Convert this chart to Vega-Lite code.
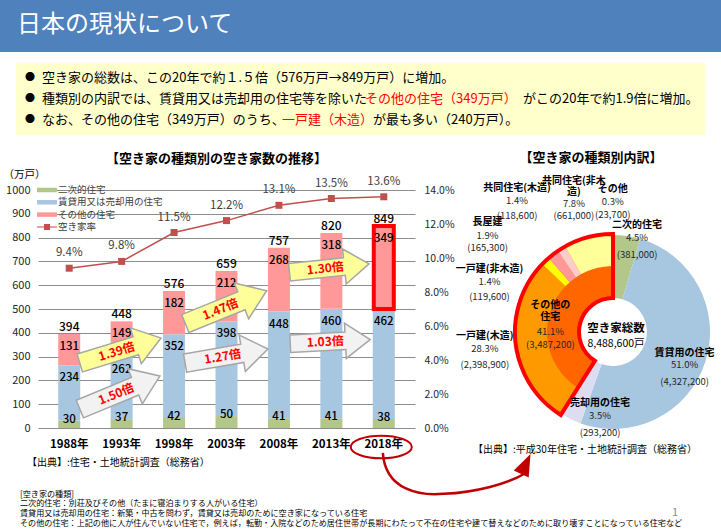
{
  "$schema": "https://vega.github.io/schema/vega-lite/v6.json",
  "background": "white",
  "padding": 0,
  "autosize": {"type": "pad"},
  "spacing": 0,
  "bounds": "full",
  "config": {"font": "Noto Sans CJK JP", "view": {"stroke": null}, "concat": {"spacing": 0}},
  "datasets": {
    "bars": [
      {"year": 1988, "type": "二次的住宅", "value": 30}, {"year": 1988, "type": "賃貸用又は売却用の住宅", "value": 234}, {"year": 1988, "type": "その他の住宅", "value": 131},
      {"year": 1993, "type": "二次的住宅", "value": 37}, {"year": 1993, "type": "賃貸用又は売却用の住宅", "value": 262}, {"year": 1993, "type": "その他の住宅", "value": 149},
      {"year": 1998, "type": "二次的住宅", "value": 42}, {"year": 1998, "type": "賃貸用又は売却用の住宅", "value": 352}, {"year": 1998, "type": "その他の住宅", "value": 182},
      {"year": 2003, "type": "二次的住宅", "value": 50}, {"year": 2003, "type": "賃貸用又は売却用の住宅", "value": 398}, {"year": 2003, "type": "その他の住宅", "value": 212},
      {"year": 2008, "type": "二次的住宅", "value": 41}, {"year": 2008, "type": "賃貸用又は売却用の住宅", "value": 448}, {"year": 2008, "type": "その他の住宅", "value": 268},
      {"year": 2013, "type": "二次的住宅", "value": 41}, {"year": 2013, "type": "賃貸用又は売却用の住宅", "value": 460}, {"year": 2013, "type": "その他の住宅", "value": 318},
      {"year": 2018, "type": "二次的住宅", "value": 38}, {"year": 2018, "type": "賃貸用又は売却用の住宅", "value": 462}, {"year": 2018, "type": "その他の住宅", "value": 349}
    ],
    "totals": [
      {"year": 1988, "total": 394}, {"year": 1993, "total": 448}, {"year": 1998, "total": 576}, {"year": 2003, "total": 659},
      {"year": 2008, "total": 757}, {"year": 2013, "total": 820}, {"year": 2018, "total": 849}
    ],
    "rate": [
      {"year": 1988, "rate": 9.4}, {"year": 1993, "rate": 9.8}, {"year": 1998, "rate": 11.5}, {"year": 2003, "rate": 12.2},
      {"year": 2008, "rate": 13.1}, {"year": 2013, "rate": 13.5}, {"year": 2018, "rate": 13.6}
    ],
    "donut": [
      {"ring": "main", "cat": "二次的住宅", "pct": 4.5, "n": 381000},
      {"ring": "main", "cat": "賃貸用の住宅", "pct": 51.0, "n": 4327200},
      {"ring": "main", "cat": "売却用の住宅", "pct": 3.5, "n": 293200},
      {"ring": "main", "cat": "その他の住宅", "pct": 41.1, "n": 3487200},
      {"ring": "sub", "cat": "二次的・賃貸用・売却用", "pct": 59.0, "n": 5001400},
      {"ring": "sub", "cat": "一戸建(木造)", "pct": 28.3, "n": 2398900},
      {"ring": "sub", "cat": "一戸建(非木造)", "pct": 1.4, "n": 119600},
      {"ring": "sub", "cat": "長屋建", "pct": 1.9, "n": 165300},
      {"ring": "sub", "cat": "共同住宅(木造)", "pct": 1.4, "n": 118600},
      {"ring": "sub", "cat": "共同住宅(非木造)", "pct": 7.8, "n": 661000},
      {"ring": "sub", "cat": "その他", "pct": 0.3, "n": 23700}
    ]
  },
  "resolve": {"scale": {"color": "independent"}, "legend": {"color": "independent"}},
  "vconcat": [
    {
      "width": 721, "height": 52, "view": {"fill": "#4F81BD"},
      "data": {"values": [{"t": "日本の現状について"}]},
      "mark": {"type": "text", "align": "left", "baseline": "middle", "fontSize": 24, "color": "#FFFFFF", "x": 17, "y": 25},
      "encoding": {"text": {"field": "t"}}
    },
    {"width": 721, "height": 8, "data": {"values": [{}]}, "mark": {"type": "text", "text": ""}},
    {
      "hconcat": [
        {"width": 16, "height": 72, "data": {"values": [{}]}, "mark": {"type": "text", "text": ""}},
        {
          "width": 689, "height": 72, "view": {"fill": "#FFFFCC"},
          "data": {"values": [{}]},
          "layer": [
            {"mark": {"type": "text", "text": ["●", "●", "●"], "align": "center", "baseline": "top", "fontSize": 10, "lineHeight": 21, "x": 14, "y": 10, "color": "#000000"}},
            {"mark": {"type": "text", "text": ["空き家の総数は、この20年で約１.５倍（576万戸→849万戸）に増加。", "種類別の内訳では、賃貸用又は売却用の住宅等を除いた", "なお、その他の住宅（349万戸）のうち、"], "align": "left", "baseline": "top", "fontSize": 13, "lineHeight": 21, "x": 26, "y": 8.5, "color": "#000000"}},
            {"mark": {"type": "text", "text": "その他の住宅（349万戸）", "align": "left", "baseline": "top", "fontSize": 13, "x": 349, "y": 29.5, "color": "#FF0000"}},
            {"mark": {"type": "text", "text": "がこの20年で約1.9倍に増加。", "align": "left", "baseline": "top", "fontSize": 13, "x": 507, "y": 29.5, "color": "#000000"}},
            {"mark": {"type": "text", "text": "一戸建（木造）", "align": "left", "baseline": "top", "fontSize": 13, "x": 266, "y": 50.5, "color": "#FF0000"}},
            {"mark": {"type": "text", "text": "が最も多い（240万戸）。", "align": "left", "baseline": "top", "fontSize": 13, "x": 357, "y": 50.5, "color": "#000000"}}
          ]
        }
      ],
      "spacing": 0, "bounds": "flush"
    },
    {"width": 721, "height": 17, "data": {"values": [{}]}, "mark": {"type": "text", "text": ""}},
    {
      "hconcat": [
        {"width": 38, "height": 238, "data": {"values": [{}]}, "mark": {"type": "text", "text": ""}},
        {
          "width": 377, "height": 238,
          "title": {"text": "【空き家の種類別の空き家数の推移】", "fontSize": 13, "fontWeight": "bold", "offset": 3, "dx": -10, "frame": "group", "anchor": "middle", "color": "#000000"},
          "layer": [
            {
              "data": {"name": "bars"},
              "transform": [
                {"calculate": "indexof(['二次的住宅','賃貸用又は売却用の住宅','その他の住宅'], datum.type)", "as": "ord"},
                {"stack": "value", "groupby": ["year"], "sort": [{"field": "ord", "order": "ascending"}], "as": ["v0", "v1"]}
              ],
              "mark": {"type": "bar", "size": 22},
              "encoding": {
                "x": {"field": "year", "type": "quantitative", "scale": {"domain": [1985.5, 2020.5], "nice": false, "zero": false}, "axis": null},
                "y": {"field": "v1", "type": "quantitative", "scale": {"domain": [0, 1000], "nice": false, "zero": false},
                  "axis": {"values": [0, 100, 200, 300, 400, 500, 600, 700, 800, 900, 1000], "format": "d", "ticks": false, "domain": false, "grid": true, "gridColor": "#8C8C8C", "gridWidth": 1, "labelFontSize": 11, "labelColor": "#262626", "labelPadding": 8,
                    "title": "（万戸）", "titleAngle": 0, "titleX": -14, "titleY": -16, "titleAlign": "center", "titleBaseline": "middle", "titleFontSize": 10.5, "titleFontWeight": "normal", "titleColor": "#000000"}},
                "y2": {"field": "v0"},
                "color": {"field": "type", "type": "nominal",
                  "scale": {"domain": ["二次的住宅", "賃貸用又は売却用の住宅", "その他の住宅", "空き家率"], "range": ["#B3C78A", "#A7C6DF", "#FF9999", "#C0504D"]},
                  "legend": {"orient": "none", "legendX": 4, "legendY": -5, "title": null, "direction": "vertical", "symbolType": "M-2,-0.45H2V0.45H-2Z", "symbolSize": 100, "symbolStrokeWidth": 0, "labelFontSize": 9.5, "labelColor": "#404040", "labelOffset": 6, "rowPadding": 2.3, "padding": 0, "labelLimit": 200,
                    "encode": {"symbols": {"update": {"shape": {"signal": "datum.value === '空き家率' ? 'M-2,-0.1H2V0.1H-2ZM-0.6,-0.6H0.6V0.6H-0.6Z' : 'M-2,-0.45H2V0.45H-2Z'"}}}}}}
              }
            },
            {
              "data": {"name": "bars"},
              "transform": [
                {"calculate": "indexof(['二次的住宅','賃貸用又は売却用の住宅','その他の住宅'], datum.type)", "as": "ord"},
                {"stack": "value", "groupby": ["year"], "sort": [{"field": "ord", "order": "ascending"}], "as": ["v0", "v1"]},
                {"filter": "datum.year === 2018 && datum.type === 'その他の住宅'"}
              ],
              "mark": {"type": "bar", "size": 20, "fill": "transparent", "stroke": "#FF0000", "strokeWidth": 4},
              "encoding": {
                "x": {"field": "year", "type": "quantitative", "scale": {"domain": [1985.5, 2020.5], "nice": false, "zero": false}, "axis": null},
                "y": {"field": "v1", "type": "quantitative", "scale": {"domain": [0, 1000], "nice": false, "zero": false}, "axis": null},
                "y2": {"field": "v0"}
              }
            },
            {
              "data": {"name": "bars"},
              "transform": [
                {"calculate": "indexof(['二次的住宅','賃貸用又は売却用の住宅','その他の住宅'], datum.type)", "as": "ord"},
                {"stack": "value", "groupby": ["year"], "sort": [{"field": "ord", "order": "ascending"}], "as": ["v0", "v1"]},
                {"filter": "datum.type !== '二次的住宅'"}
              ],
              "mark": {"type": "text", "dy": 13, "fontSize": 11.5, "fontWeight": 500, "color": "#000000"},
              "encoding": {
                "x": {"field": "year", "type": "quantitative", "scale": {"domain": [1985.5, 2020.5], "nice": false, "zero": false}, "axis": null},
                "y": {"field": "v1", "type": "quantitative", "scale": {"domain": [0, 1000], "nice": false, "zero": false}, "axis": null},
                "text": {"field": "value"}
              }
            },
            {
              "data": {"name": "bars"},
              "transform": [
                {"calculate": "indexof(['二次的住宅','賃貸用又は売却用の住宅','その他の住宅'], datum.type)", "as": "ord"},
                {"stack": "value", "groupby": ["year"], "sort": [{"field": "ord", "order": "ascending"}], "as": ["v0", "v1"]},
                {"filter": "datum.type === '二次的住宅'"}
              ],
              "mark": {"type": "text", "dy": -1, "fontSize": 11.5, "fontWeight": 500, "color": "#000000"},
              "encoding": {
                "x": {"field": "year", "type": "quantitative", "scale": {"domain": [1985.5, 2020.5], "nice": false, "zero": false}, "axis": null},
                "y": {"field": "v1", "type": "quantitative", "scale": {"domain": [0, 1000], "nice": false, "zero": false}, "axis": null},
                "text": {"field": "value"}
              }
            },
            {
              "data": {"name": "totals"},
              "mark": {"type": "text", "dy": -7, "fontSize": 12, "fontWeight": 500, "color": "#000000"},
              "encoding": {
                "x": {"field": "year", "type": "quantitative", "scale": {"domain": [1985.5, 2020.5], "nice": false, "zero": false}, "axis": null},
                "y": {"field": "total", "type": "quantitative", "scale": {"domain": [0, 1000], "nice": false, "zero": false}, "axis": null},
                "text": {"field": "total"}
              }
            },
            {
              "data": {"name": "totals"},
              "transform": [{"calculate": "datum.year + '年'", "as": "ylab"}],
              "mark": {"type": "text", "dy": 17, "fontSize": 11.5, "fontWeight": "bold", "color": "#000000"},
              "encoding": {
                "x": {"field": "year", "type": "quantitative", "scale": {"domain": [1985.5, 2020.5], "nice": false, "zero": false}, "axis": null},
                "y": {"datum": 0, "type": "quantitative", "scale": {"domain": [0, 1000], "nice": false, "zero": false}, "axis": null},
                "text": {"field": "ylab"}
              }
            },
            {
              "data": {"values": [{"label": "1.39倍"}]},
              "mark": {"type": "point", "shape": "M-1,-0.22L0.38,-0.22L0.38,-0.44L1,0L0.38,0.44L0.38,0.22L-1,0.22Z", "size": 7225, "angle": 343, "filled": true, "fill": "#FFFF99", "stroke": "#A6A6A6", "strokeWidth": 1.5, "opacity": 1},
              "encoding": {"x": {"datum": 1992.88, "type": "quantitative", "scale": {"domain": [1985.5, 2020.5], "nice": false, "zero": false}, "axis": null}, "y": {"datum": 325.6, "type": "quantitative", "scale": {"domain": [0, 1000], "nice": false, "zero": false}, "axis": null}}
            },
            {
              "data": {"values": [{"label": "1.39倍"}]},
              "mark": {"type": "text", "angle": 343, "dx": -4, "fontSize": 12, "fontWeight": "bold", "color": "#FF0000"},
              "encoding": {"x": {"datum": 1992.88, "type": "quantitative", "scale": {"domain": [1985.5, 2020.5], "nice": false, "zero": false}, "axis": null}, "y": {"datum": 325.6, "type": "quantitative", "scale": {"domain": [0, 1000], "nice": false, "zero": false}, "axis": null}, "text": {"field": "label"}}
            },
            {
              "data": {"values": [{"label": "1.50倍"}]},
              "mark": {"type": "point", "shape": "M-1,-0.22L0.38,-0.22L0.38,-0.44L1,0L0.38,0.44L0.38,0.22L-1,0.22Z", "size": 7500, "angle": 337.6, "filled": true, "fill": "#F2F2F2", "stroke": "#A6A6A6", "strokeWidth": 1.5, "opacity": 1},
              "encoding": {"x": {"datum": 1992.83, "type": "quantitative", "scale": {"domain": [1985.5, 2020.5], "nice": false, "zero": false}, "axis": null}, "y": {"datum": 149, "type": "quantitative", "scale": {"domain": [0, 1000], "nice": false, "zero": false}, "axis": null}}
            },
            {
              "data": {"values": [{"label": "1.50倍"}]},
              "mark": {"type": "text", "angle": 337.6, "dx": -4, "fontSize": 12, "fontWeight": "bold", "color": "#FF0000"},
              "encoding": {"x": {"datum": 1992.83, "type": "quantitative", "scale": {"domain": [1985.5, 2020.5], "nice": false, "zero": false}, "axis": null}, "y": {"datum": 149, "type": "quantitative", "scale": {"domain": [0, 1000], "nice": false, "zero": false}, "axis": null}, "text": {"field": "label"}}
            },
            {
              "data": {"values": [{"label": "1.47倍"}]},
              "mark": {"type": "point", "shape": "M-1,-0.22L0.38,-0.22L0.38,-0.44L1,0L0.38,0.44L0.38,0.22L-1,0.22Z", "size": 7700, "angle": 338, "filled": true, "fill": "#FFFF99", "stroke": "#A6A6A6", "strokeWidth": 1.5, "opacity": 1},
              "encoding": {"x": {"datum": 2002.95, "type": "quantitative", "scale": {"domain": [1985.5, 2020.5], "nice": false, "zero": false}, "axis": null}, "y": {"datum": 508, "type": "quantitative", "scale": {"domain": [0, 1000], "nice": false, "zero": false}, "axis": null}}
            },
            {
              "data": {"values": [{"label": "1.47倍"}]},
              "mark": {"type": "text", "angle": 338, "dx": -6, "fontSize": 12, "fontWeight": "bold", "color": "#FF0000"},
              "encoding": {"x": {"datum": 2002.95, "type": "quantitative", "scale": {"domain": [1985.5, 2020.5], "nice": false, "zero": false}, "axis": null}, "y": {"datum": 508, "type": "quantitative", "scale": {"domain": [0, 1000], "nice": false, "zero": false}, "axis": null}, "text": {"field": "label"}}
            },
            {
              "data": {"values": [{"label": "1.27倍"}]},
              "mark": {"type": "point", "shape": "M-1,-0.22L0.38,-0.22L0.38,-0.44L1,0L0.38,0.44L0.38,0.22L-1,0.22Z", "size": 7056, "angle": 350.4, "filled": true, "fill": "#F2F2F2", "stroke": "#A6A6A6", "strokeWidth": 1.5, "opacity": 1},
              "encoding": {"x": {"datum": 2003.0, "type": "quantitative", "scale": {"domain": [1985.5, 2020.5], "nice": false, "zero": false}, "axis": null}, "y": {"datum": 302.5, "type": "quantitative", "scale": {"domain": [0, 1000], "nice": false, "zero": false}, "axis": null}}
            },
            {
              "data": {"values": [{"label": "1.27倍"}]},
              "mark": {"type": "text", "angle": 350.4, "dx": -4, "fontSize": 12, "fontWeight": "bold", "color": "#FF0000"},
              "encoding": {"x": {"datum": 2003.0, "type": "quantitative", "scale": {"domain": [1985.5, 2020.5], "nice": false, "zero": false}, "axis": null}, "y": {"datum": 302.5, "type": "quantitative", "scale": {"domain": [0, 1000], "nice": false, "zero": false}, "axis": null}, "text": {"field": "label"}}
            },
            {
              "data": {"values": [{"label": "1.30倍"}]},
              "mark": {"type": "point", "shape": "M-1,-0.22L0.38,-0.22L0.38,-0.44L1,0L0.38,0.44L0.38,0.22L-1,0.22Z", "size": 6400, "angle": 354, "filled": true, "fill": "#FFFF99", "stroke": "#A6A6A6", "strokeWidth": 1.5, "opacity": 1},
              "encoding": {"x": {"datum": 2012.8, "type": "quantitative", "scale": {"domain": [1985.5, 2020.5], "nice": false, "zero": false}, "axis": null}, "y": {"datum": 672, "type": "quantitative", "scale": {"domain": [0, 1000], "nice": false, "zero": false}, "axis": null}}
            },
            {
              "data": {"values": [{"label": "1.30倍"}]},
              "mark": {"type": "text", "angle": 354, "dx": -4, "fontSize": 12, "fontWeight": "bold", "color": "#FF0000"},
              "encoding": {"x": {"datum": 2012.8, "type": "quantitative", "scale": {"domain": [1985.5, 2020.5], "nice": false, "zero": false}, "axis": null}, "y": {"datum": 672, "type": "quantitative", "scale": {"domain": [0, 1000], "nice": false, "zero": false}, "axis": null}, "text": {"field": "label"}}
            },
            {
              "data": {"values": [{"label": "1.03倍"}]},
              "mark": {"type": "point", "shape": "M-1,-0.22L0.38,-0.22L0.38,-0.44L1,0L0.38,0.44L0.38,0.22L-1,0.22Z", "size": 6400, "angle": 357, "filled": true, "fill": "#F2F2F2", "stroke": "#A6A6A6", "strokeWidth": 1.5, "opacity": 1},
              "encoding": {"x": {"datum": 2012.89, "type": "quantitative", "scale": {"domain": [1985.5, 2020.5], "nice": false, "zero": false}, "axis": null}, "y": {"datum": 363, "type": "quantitative", "scale": {"domain": [0, 1000], "nice": false, "zero": false}, "axis": null}}
            },
            {
              "data": {"values": [{"label": "1.03倍"}]},
              "mark": {"type": "text", "angle": 357, "dx": -5, "fontSize": 12, "fontWeight": "bold", "color": "#FF0000"},
              "encoding": {"x": {"datum": 2012.89, "type": "quantitative", "scale": {"domain": [1985.5, 2020.5], "nice": false, "zero": false}, "axis": null}, "y": {"datum": 363, "type": "quantitative", "scale": {"domain": [0, 1000], "nice": false, "zero": false}, "axis": null}, "text": {"field": "label"}}
            },
            {
              "data": {"values": [{"label": "2018年"}]},
              "mark": {"type": "point", "shape": "M-1,0A1,0.37,0,1,1,1,0A1,0.37,0,1,1,-1,0Z", "size": 3721, "filled": false, "stroke": "#C00000", "strokeWidth": 2, "opacity": 1},
              "encoding": {"x": {"datum": 2017.76, "type": "quantitative", "scale": {"domain": [1985.5, 2020.5], "nice": false, "zero": false}, "axis": null}, "y": {"datum": -80, "type": "quantitative", "scale": {"domain": [0, 1000], "nice": false, "zero": false}, "axis": null}}
            },
            {
              "data": {"values": [{"label": "curve"}]},
              "mark": {"type": "point", "shape": "M-0.986,-0.28C-0.95,0.25,-0.45,0.32,-0.14,0.29C0.3,0.27,0.75,0.15,1,0", "size": 20736, "filled": false, "stroke": "#C00000", "strokeWidth": 2.5, "opacity": 1},
              "encoding": {"x": {"datum": 2024.68, "type": "quantitative", "scale": {"domain": [1985.5, 2020.5], "nice": false, "zero": false}, "axis": null}, "y": {"datum": -189, "type": "quantitative", "scale": {"domain": [0, 1000], "nice": false, "zero": false}, "axis": null}}
            },
            {
              "data": {"values": [{"label": "head"}]},
              "mark": {"type": "point", "shape": "M1,0L-1,-0.75L-1,0.75Z", "size": 484, "angle": 295, "filled": true, "fill": "#C00000", "opacity": 1},
              "encoding": {"x": {"datum": 2031.55, "type": "quantitative", "scale": {"domain": [1985.5, 2020.5], "nice": false, "zero": false}, "axis": null}, "y": {"datum": -151, "type": "quantitative", "scale": {"domain": [0, 1000], "nice": false, "zero": false}, "axis": null}}
            },
            {
              "data": {"name": "rate"},
              "mark": {"type": "line", "color": "#C0504D", "strokeWidth": 1.5},
              "encoding": {
                "x": {"field": "year", "type": "quantitative", "scale": {"domain": [1985.5, 2020.5], "nice": false, "zero": false}, "axis": null},
                "y": {"field": "rate", "type": "quantitative", "scale": {"domain": [0, 14], "nice": false, "zero": false},
                  "axis": {"orient": "right", "values": [0, 2, 4, 6, 8, 10, 12, 14], "labelExpr": "format(datum.value, '.1f') + '%'", "ticks": false, "domain": false, "grid": false, "title": null, "labelPadding": 9, "labelFontSize": 10.5, "labelColor": "#262626"}}
              }
            },
            {
              "data": {"name": "rate"},
              "mark": {"type": "point", "shape": "square", "filled": true, "size": 49, "color": "#C0504D", "opacity": 1},
              "encoding": {
                "x": {"field": "year", "type": "quantitative", "scale": {"domain": [1985.5, 2020.5], "nice": false, "zero": false}, "axis": null},
                "y": {"field": "rate", "type": "quantitative", "scale": {"domain": [0, 14], "nice": false, "zero": false}, "axis": null}
              }
            },
            {
              "data": {"name": "rate"},
              "transform": [{"calculate": "format(datum.rate, '.1f') + '%'", "as": "lbl"}],
              "mark": {"type": "text", "dy": -15, "fontSize": 11.5, "color": "#404040"},
              "encoding": {
                "x": {"field": "year", "type": "quantitative", "scale": {"domain": [1985.5, 2020.5], "nice": false, "zero": false}, "axis": null},
                "y": {"field": "rate", "type": "quantitative", "scale": {"domain": [0, 14], "nice": false, "zero": false}, "axis": null},
                "text": {"field": "lbl"}
              }
            },
            {
              "data": {"values": [{"t": "【出典】:住宅・土地統計調査（総務省）"}]},
              "mark": {"type": "text", "align": "left", "baseline": "middle", "fontSize": 10, "x": -11, "y": 273, "color": "#000000"},
              "encoding": {"text": {"field": "t"}}
            },
            {
              "data": {"values": [{}]},
              "mark": {"type": "text", "text": ["[空き家の種類]", "二次的住宅：別荘及びその他（たまに寝泊まりする人がいる住宅）", "賃貸用又は売却用の住宅：新築・中古を問わず，賃貸又は売却のために空き家になっている住宅", "その他の住宅：上記の他に人が住んでいない住宅で，例えば，転勤・入院などのため居住世帯が長期にわたって不在の住宅や建て替えなどのために取り壊すことになっている住宅など"], "align": "left", "baseline": "top", "fontSize": 8.1, "lineHeight": 9.7, "x": -18, "y": 300.5, "color": "#000000"}
            },
            {
              "data": {"values": [{}]},
              "mark": {"type": "text", "text": "1", "align": "center", "baseline": "middle", "fontSize": 11, "x": 637, "y": 323, "color": "#8C8C8C"}
            }
          ],
          "resolve": {"scale": {"y": "independent"}}
        },
        {"width": 90, "height": 10, "data": {"values": [{}]}, "mark": {"type": "text", "text": ""}},
        {
          "width": 216, "height": 284,
          "title": {"text": "【空き家の種類別内訳】", "fontSize": 13, "fontWeight": "bold", "offset": 11, "dx": -22, "frame": "group", "anchor": "middle", "color": "#000000"},
          "layer": [
            {
              "data": {"name": "donut"},
              "transform": [
                {"calculate": "indexof(['二次的住宅','賃貸用の住宅','売却用の住宅','その他の住宅','二次的・賃貸用・売却用','一戸建(木造)','一戸建(非木造)','長屋建','共同住宅(木造)','共同住宅(非木造)','その他'], datum.cat)", "as": "o"},
                {"stack": "pct", "groupby": ["ring"], "sort": [{"field": "o", "order": "ascending"}], "as": ["t0", "t1"]},
                {"calculate": "(datum.t0 + datum.t1) / 2", "as": "tm"},
                {"calculate": "format(datum.pct, '.1f') + '%\\n(' + format(datum.n, ',') + ')'", "as": "detail"}
              ],
              "layer": [
                {
                  "transform": [{"filter": "datum.ring === 'main'"}],
                  "mark": {"type": "arc", "innerRadius": 34, "outerRadius": 97},
                  "encoding": {
                    "theta": {"field": "t0", "type": "quantitative", "scale": {"domain": [0, 100.1]}, "stack": null},
                    "theta2": {"field": "t1"},
                    "color": {"field": "cat", "type": "nominal", "legend": null,
                      "scale": {"domain": ["二次的住宅", "賃貸用の住宅", "売却用の住宅", "その他の住宅", "一戸建(木造)", "一戸建(非木造)", "長屋建", "共同住宅(木造)", "共同住宅(非木造)", "その他"],
                        "range": ["#B3C78A", "#A7C6DF", "#DDDDF2", "#FF6600", "#FF9900", "#FFFF00", "#FF9999", "#FFCCCC", "#FFFF99", "#FFCC66"]}}
                  }
                },
                {
                  "transform": [{"filter": "datum.ring === 'sub' && datum.cat !== '二次的・賃貸用・売却用'"}],
                  "mark": {"type": "arc", "innerRadius": 66, "outerRadius": 97},
                  "encoding": {
                    "theta": {"field": "t0", "type": "quantitative", "scale": {"domain": [0, 100.1]}, "stack": null},
                    "theta2": {"field": "t1"},
                    "color": {"field": "cat", "type": "nominal", "legend": null}
                  }
                },
                {
                  "transform": [{"filter": "datum.ring === 'main' && datum.cat === 'その他の住宅'"}],
                  "mark": {"type": "arc", "innerRadius": 34, "outerRadius": 98, "filled": false, "color": "#FF0000", "stroke": "#FF0000", "strokeWidth": 4},
                  "encoding": {
                    "theta": {"field": "t0", "type": "quantitative", "scale": {"domain": [0, 100.1]}, "stack": null},
                    "theta2": {"field": "t1"}
                  }
                },
                {"transform": [{"filter": "datum.cat === '二次的住宅'"}], "mark": {"type": "text", "radius": 100, "dx": 10, "dy": -12.5, "baseline": "top", "fontSize": 10, "fontWeight": "bold", "color": "#000000"}, "encoding": {"theta": {"field": "tm", "type": "quantitative", "scale": {"domain": [0, 100.1]}, "stack": null}, "text": {"field": "cat"}}},
                {"transform": [{"filter": "datum.cat === '二次的住宅'"}], "mark": {"type": "text", "radius": 100, "dx": 10, "dy": 0.5, "baseline": "top", "fontSize": 9.5, "lineBreak": "\n", "lineHeight": 17, "color": "#262626"}, "encoding": {"theta": {"field": "tm", "type": "quantitative", "scale": {"domain": [0, 100.1]}, "stack": null}, "text": {"field": "detail"}}},
                {"transform": [{"filter": "datum.cat === '賃貸用の住宅'"}], "mark": {"type": "text", "radius": 70, "dx": 5, "dy": -6, "baseline": "top", "fontSize": 10, "fontWeight": "bold", "color": "#000000"}, "encoding": {"theta": {"field": "tm", "type": "quantitative", "scale": {"domain": [0, 100.1]}, "stack": null}, "text": {"field": "cat"}}},
                {"transform": [{"filter": "datum.cat === '賃貸用の住宅'"}], "mark": {"type": "text", "radius": 70, "dx": 5, "dy": 6.5, "baseline": "top", "fontSize": 9.5, "lineBreak": "\n", "lineHeight": 17, "color": "#262626"}, "encoding": {"theta": {"field": "tm", "type": "quantitative", "scale": {"domain": [0, 100.1]}, "stack": null}, "text": {"field": "detail"}}},
                {"transform": [{"filter": "datum.cat === '売却用の住宅'"}], "mark": {"type": "text", "radius": 80, "dx": 22, "dy": -6.3, "baseline": "top", "fontSize": 10, "fontWeight": "bold", "color": "#000000"}, "encoding": {"theta": {"field": "tm", "type": "quantitative", "scale": {"domain": [0, 100.1]}, "stack": null}, "text": {"field": "cat"}}},
                {"transform": [{"filter": "datum.cat === '売却用の住宅'"}], "mark": {"type": "text", "radius": 80, "dx": 22, "dy": 7, "baseline": "top", "fontSize": 9.5, "lineBreak": "\n", "lineHeight": 17, "color": "#262626"}, "encoding": {"theta": {"field": "tm", "type": "quantitative", "scale": {"domain": [0, 100.1]}, "stack": null}, "text": {"field": "detail"}}},
                {"transform": [{"filter": "datum.cat === 'その他の住宅'"}], "mark": {"type": "text", "radius": 60, "dx": -5, "dy": -15.5, "baseline": "top", "fontSize": 10, "fontWeight": "bold", "lineHeight": 12, "color": "#000000"}, "encoding": {"theta": {"field": "tm", "type": "quantitative", "scale": {"domain": [0, 100.1]}, "stack": null}, "text": {"value": ["その他の", "住宅"]}}},
                {"transform": [{"filter": "datum.cat === 'その他の住宅'"}], "mark": {"type": "text", "radius": 60, "dx": -5, "dy": 11.5, "baseline": "top", "fontSize": 9.5, "lineBreak": "\n", "lineHeight": 13, "color": "#262626"}, "encoding": {"theta": {"field": "tm", "type": "quantitative", "scale": {"domain": [0, 100.1]}, "stack": null}, "text": {"field": "detail"}}},
                {"transform": [{"filter": "datum.cat === '一戸建(木造)'"}], "mark": {"type": "text", "radius": 120, "dx": -9, "dy": -15.5, "baseline": "top", "fontSize": 10, "fontWeight": "bold", "color": "#000000"}, "encoding": {"theta": {"field": "tm", "type": "quantitative", "scale": {"domain": [0, 100.1]}, "stack": null}, "text": {"field": "cat"}}},
                {"transform": [{"filter": "datum.cat === '一戸建(木造)'"}], "mark": {"type": "text", "radius": 120, "dx": -9, "dy": -2, "baseline": "top", "fontSize": 9.5, "lineBreak": "\n", "lineHeight": 16, "color": "#262626"}, "encoding": {"theta": {"field": "tm", "type": "quantitative", "scale": {"domain": [0, 100.1]}, "stack": null}, "text": {"field": "detail"}}},
                {"transform": [{"filter": "datum.cat === '一戸建(非木造)'"}], "mark": {"type": "text", "radius": 138, "dx": -28.5, "dy": 32, "baseline": "top", "fontSize": 10, "fontWeight": "bold", "color": "#000000"}, "encoding": {"theta": {"field": "tm", "type": "quantitative", "scale": {"domain": [0, 100.1]}, "stack": null}, "text": {"field": "cat"}}},
                {"transform": [{"filter": "datum.cat === '一戸建(非木造)'"}], "mark": {"type": "text", "radius": 138, "dx": -28.5, "dy": 45.5, "baseline": "top", "fontSize": 9.5, "lineBreak": "\n", "lineHeight": 15, "color": "#262626"}, "encoding": {"theta": {"field": "tm", "type": "quantitative", "scale": {"domain": [0, 100.1]}, "stack": null}, "text": {"field": "detail"}}},
                {"transform": [{"filter": "datum.cat === '長屋建'"}], "mark": {"type": "text", "radius": 150, "dx": -34, "dy": 3.8, "baseline": "top", "fontSize": 10, "fontWeight": "bold", "color": "#000000"}, "encoding": {"theta": {"field": "tm", "type": "quantitative", "scale": {"domain": [0, 100.1]}, "stack": null}, "text": {"field": "cat"}}},
                {"transform": [{"filter": "datum.cat === '長屋建'"}], "mark": {"type": "text", "radius": 150, "dx": -34, "dy": 17.8, "baseline": "top", "fontSize": 9.5, "lineBreak": "\n", "lineHeight": 12, "color": "#262626"}, "encoding": {"theta": {"field": "tm", "type": "quantitative", "scale": {"domain": [0, 100.1]}, "stack": null}, "text": {"field": "detail"}}},
                {"transform": [{"filter": "datum.cat === '共同住宅(木造)'"}], "mark": {"type": "text", "radius": 160, "dx": -12, "dy": -12.8, "baseline": "top", "fontSize": 10, "fontWeight": "bold", "color": "#000000"}, "encoding": {"theta": {"field": "tm", "type": "quantitative", "scale": {"domain": [0, 100.1]}, "stack": null}, "text": {"field": "cat"}}},
                {"transform": [{"filter": "datum.cat === '共同住宅(木造)'"}], "mark": {"type": "text", "radius": 160, "dx": -12, "dy": 0.5, "baseline": "top", "fontSize": 9.5, "lineBreak": "\n", "lineHeight": 15, "color": "#262626"}, "encoding": {"theta": {"field": "tm", "type": "quantitative", "scale": {"domain": [0, 100.1]}, "stack": null}, "text": {"field": "detail"}}},
                {"transform": [{"filter": "datum.cat === '共同住宅(非木造)'"}], "mark": {"type": "text", "radius": 150, "dx": 0, "dy": -11, "baseline": "top", "fontSize": 10, "fontWeight": "bold", "lineHeight": 11, "color": "#000000"}, "encoding": {"theta": {"field": "tm", "type": "quantitative", "scale": {"domain": [0, 100.1]}, "stack": null}, "text": {"value": ["共同住宅(非木", "造)"]}}},
                {"transform": [{"filter": "datum.cat === '共同住宅(非木造)'"}], "mark": {"type": "text", "radius": 150, "dx": 0, "dy": 11.5, "baseline": "top", "fontSize": 9.5, "lineBreak": "\n", "lineHeight": 12, "color": "#262626"}, "encoding": {"theta": {"field": "tm", "type": "quantitative", "scale": {"domain": [0, 100.1]}, "stack": null}, "text": {"field": "detail"}}},
                {"transform": [{"filter": "datum.cat === 'その他'"}], "mark": {"type": "text", "radius": 140, "dx": 1, "dy": -8.5, "baseline": "top", "fontSize": 10, "fontWeight": "bold", "color": "#000000"}, "encoding": {"theta": {"field": "tm", "type": "quantitative", "scale": {"domain": [0, 100.1]}, "stack": null}, "text": {"field": "cat"}}},
                {"transform": [{"filter": "datum.cat === 'その他'"}], "mark": {"type": "text", "radius": 140, "dx": 1, "dy": 4.5, "baseline": "top", "fontSize": 9.5, "lineBreak": "\n", "lineHeight": 13, "color": "#262626"}, "encoding": {"theta": {"field": "tm", "type": "quantitative", "scale": {"domain": [0, 100.1]}, "stack": null}, "text": {"field": "detail"}}}
              ]
            },
            {
              "data": {"values": [{"t": "空き家総数"}]},
              "mark": {"type": "text", "baseline": "top", "fontSize": 11.5, "fontWeight": "bold", "dx": 3, "dy": -9, "color": "#000000"},
              "encoding": {"text": {"field": "t"}}
            },
            {
              "data": {"values": [{"total": 8488600}]},
              "transform": [{"calculate": "format(datum.total, ',') + '戸'", "as": "t"}],
              "mark": {"type": "text", "baseline": "top", "fontSize": 10.5, "dx": 3, "dy": 6.5, "color": "#000000"},
              "encoding": {"text": {"field": "t"}}
            },
            {
              "data": {"values": [{"t": "【出典】:平成30年住宅・土地統計調査（総務省）"}]},
              "mark": {"type": "text", "align": "left", "baseline": "middle", "fontSize": 10, "x": -32, "y": 260, "color": "#000000"},
              "encoding": {"text": {"field": "t"}}
            }
          ]
        }
      ],
      "spacing": 0, "bounds": "flush",
      "resolve": {"scale": {"color": "independent"}, "legend": {"color": "independent"}}
    }
  ]
}
